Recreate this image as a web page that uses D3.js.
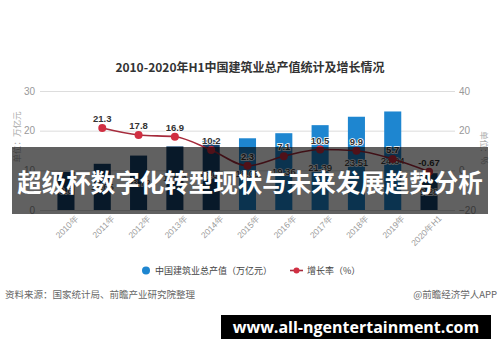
<!DOCTYPE html>
<html>
<head>
<meta charset="utf-8">
<script src="https://cdn.jsdelivr.net/npm/d3@7"></script>
<style>
  body { margin: 0; background: #fff; }
  svg { display: block; font-family: "Noto Sans CJK SC", "Noto Sans", sans-serif; }
</style>
</head>
<body>
<div id="chart"></div>
<script>
// Données
const years = ['2010年', '2011年', '2012年', '2013年', '2014年', '2015年', '2016年', '2017年', '2018年', '2019年', '2020年H1'];
const output = [9.6, 11.65, 13.72, 16.04, 17.67, 18.08, 19.36, 21.39, 23.51, 24.84, 9.28];
const growth = [null, 21.3, 17.8, 16.9, 10.2, 2.3, 7.1, 10.5, 9.9, 5.7, -0.67];
const growthLabels = ['', '21.3', '17.8', '16.9', '10.2', '2.3', '7.1', '10.5', '9.9', '5.7', '-0.67'];
const leftTicks = [0, 10, 20, 30];
const rightTicks = [-20, 0, 20, 40];

const width = 500, height = 362;

const svg = d3.select('#chart').append('svg')
    .attr('width', width)
    .attr('height', height);

// Titre
svg.append('text')
    .attr('x', 250).attr('y', 72)
    .attr('text-anchor', 'middle')
    .attr('font-size', 12).attr('font-weight', 'bold')
    .attr('fill', '#333')
    .text('2010-2020年H1中国建筑业总产值统计及增长情况');

// Échelles
const x = d3.scaleBand().domain(years).range([40, 455]).paddingInner(0.53).paddingOuter(0.48);
const yL = d3.scaleLinear().domain([0, 30]).range([210, 91]);
const yR = d3.scaleLinear().domain([-20, 40]).range([210, 91]);

// Grille + axe gauche
const axL = svg.append('g').attr('transform', 'translate(40,0)')
    .call(d3.axisLeft(yL).tickValues(leftTicks).tickSize(-415).tickPadding(5));
axL.select('.domain').remove();
axL.selectAll('line').attr('stroke', '#ddd');
axL.selectAll('text').attr('fill', '#999').attr('font-size', 10).attr('font-family', 'Liberation Sans, sans-serif');

// Axe droit
const axR = svg.append('g').attr('transform', 'translate(455,0)')
    .call(d3.axisRight(yR).tickValues(rightTicks).tickSize(0).tickPadding(4));
axR.select('.domain').remove();
axR.selectAll('text').attr('fill', '#999').attr('font-size', 10).attr('font-family', 'Liberation Sans, sans-serif');

// Titres des axes
svg.append('text')
    .attr('transform', 'translate(20,137) rotate(-90)')
    .attr('text-anchor', 'middle')
    .attr('font-size', 8.5).attr('fill', '#aaa')
    .text('单位：万亿元');
svg.append('text')
    .attr('transform', 'translate(481,148) rotate(90)')
    .attr('text-anchor', 'middle')
    .attr('font-size', 8.5).attr('fill', '#aaa')
    .text('单位：%');

// Barres
const barColor = i => (i >= 5 && i <= 9) ? '#1e86d0' : '#15426d';
svg.append('g').selectAll('rect')
    .data(output)
    .enter().append('rect')
    .attr('x', (d, i) => x(years[i]))
    .attr('y', d => yL(d))
    .attr('width', x.bandwidth())
    .attr('height', d => yL(0) - yL(d))
    .attr('fill', (d, i) => barColor(i));

// Étiquettes des barres
svg.append('g').selectAll('text')
    .data(output)
    .enter().append('text')
    .attr('x', (d, i) => x(years[i]) + x.bandwidth() / 2)
    .attr('y', d => (yL(d) + yL(0)) / 2 + 3)
    .attr('text-anchor', 'middle')
    .attr('font-size', 9.5).attr('font-family', 'Liberation Sans, sans-serif')
    .attr('fill', '#222')
    .attr('stroke', '#fff').attr('stroke-width', 1.6).attr('paint-order', 'stroke')
    .text(d => d);

// Axe X
const axX = svg.append('g').attr('transform', 'translate(0,210)')
    .call(d3.axisBottom(x).tickSize(0).tickPadding(4));
axX.select('.domain').remove();
axX.selectAll('text')
    .attr('fill', '#999').attr('font-size', 8.5)
    .attr('text-anchor', 'end')
    .attr('transform', 'translate(6,2) rotate(-45)');

// Courbe du taux de croissance
const pts = growth.map((v, i) => ({ v, i })).filter(d => d.v !== null);
const cx = d => x(years[d.i]) + x.bandwidth() / 2;
svg.append('path')
    .datum(pts)
    .attr('fill', 'none')
    .attr('stroke', '#a62b3c')
    .attr('stroke-width', 1.6)
    .attr('d', d3.line().x(cx).y(d => yR(d.v)).curve(d3.curveMonotoneX));

svg.append('g').selectAll('circle')
    .data(pts)
    .enter().append('circle')
    .attr('cx', cx)
    .attr('cy', d => yR(d.v))
    .attr('r', 4)
    .attr('fill', '#d12f42');

svg.append('g').selectAll('text')
    .data(pts)
    .enter().append('text')
    .attr('x', cx)
    .attr('y', d => yR(d.v) - 6)
    .attr('text-anchor', 'middle')
    .attr('font-size', 9.5).attr('font-weight', 'bold').attr('font-family', 'Liberation Sans, sans-serif')
    .attr('fill', '#333')
    .attr('stroke', '#fff').attr('stroke-width', 1.6).attr('paint-order', 'stroke')
    .text(d => growthLabels[d.i]);

// Légende
svg.append('circle').attr('cx', 146).attr('cy', 270.5).attr('r', 4).attr('fill', '#1e86d0');
svg.append('text').attr('x', 155).attr('y', 274)
    .attr('font-size', 9).attr('fill', '#444').text('中国建筑业总产值（万亿元）');
svg.append('line').attr('x1', 290).attr('x2', 303).attr('y1', 270.5).attr('y2', 270.5)
    .attr('stroke', '#a62b3c').attr('stroke-width', 1.6);
svg.append('circle').attr('cx', 296.5).attr('cy', 270.5).attr('r', 3).attr('fill', '#d12f42');
svg.append('text').attr('x', 307).attr('y', 274)
    .attr('font-size', 9).attr('fill', '#444').text('增长率（%）');

// Source
svg.append('text').attr('x', 5).attr('y', 298)
    .attr('font-size', 9.5).attr('fill', '#666').text('资料来源：国家统计局、前瞻产业研究院整理');
svg.append('text').attr('x', 497).attr('y', 298).attr('text-anchor', 'end')
    .attr('font-size', 9.5).attr('fill', '#666').text('@前瞻经济学人APP');

// Bandeau semi-transparent
svg.append('rect')
    .attr('x', 12).attr('y', 147).attr('width', 476).attr('height', 67)
    .attr('fill', 'rgba(0,0,0,0.62)');
svg.append('text')
    .attr('x', 250).attr('y', 181)
    .attr('text-anchor', 'middle').attr('dominant-baseline', 'central')
    .attr('font-size', 24.5).attr('font-weight', 'bold')
    .attr('fill', '#fff')
    .text('超级杯数字化转型现状与未来发展趋势分析');

// Pied de page
svg.append('rect')
    .attr('x', 221).attr('y', 315).attr('width', 270).attr('height', 24)
    .attr('fill', '#000');
svg.append('text')
    .attr('x', 356).attr('y', 327)
    .attr('text-anchor', 'middle').attr('dominant-baseline', 'central')
    .attr('font-size', 16).attr('font-weight', 'bold')
    .attr('font-family', 'Open Sans, sans-serif')
    .attr('fill', '#fff')
    .text('www.all-ngentertainment.com');
</script>
</body>
</html>
